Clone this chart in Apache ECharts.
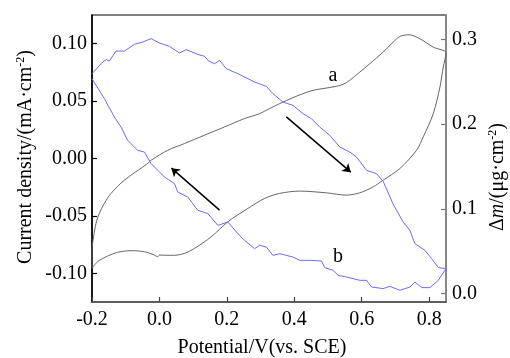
<!DOCTYPE html>
<html>
<head>
<meta charset="utf-8">
<script src="https://cdn.jsdelivr.net/npm/echarts@6/dist/echarts.min.js"></script>
<style>
html,body{margin:0;padding:0;background:#fff;}
#c{width:510px;height:358px;}
</style>
</head>
<body>
<div id="c"></div>
<script>
// Curve a: current density (left axis), closed CV loop
const potentialA = [-0.2,-0.1834,-0.1536,-0.1239,-0.0841,-0.0446,-0.0149,-0.0051,0.0,0.0199,0.0446,0.0743,0.104,0.1536,0.203,0.2624,0.312,0.3566,0.416,0.4954,0.5548,0.5944,0.634,0.6636,0.7132,0.7628,0.7825,0.8122,0.8321,0.842,0.85,
  0.8122,0.7726,0.74,0.7132,0.6933,0.6636,0.6241,0.5944,0.5646,0.5447,0.5251,0.4853,0.4556,0.4259,0.3962,0.3566,0.3269,0.2972,0.2526,0.1932,0.1337,0.0743,0.0247,-0.0247,-0.0347,-0.104,-0.1435,-0.1634,-0.1783,-0.1881,-0.1952,-0.2,-0.2];
const currentA = [-0.0957,-0.0899,-0.085,-0.0817,-0.0803,-0.0812,-0.0841,-0.0856,-0.0841,-0.0843,-0.0843,-0.0826,-0.0783,-0.0682,-0.0551,-0.0435,-0.0348,-0.0304,-0.0284,-0.0299,-0.0319,-0.0299,-0.0247,-0.0189,-0.0087,0.0072,0.0188,0.0391,0.0623,0.0797,0.0920,
  0.097,0.1043,0.1078,0.1063,0.1014,0.0927,0.0826,0.0753,0.0681,0.0646,0.0629,0.0609,0.0594,0.0565,0.053,0.0478,0.0435,0.0391,0.0348,0.0275,0.0203,0.013,0.0072,-0.0015,-0.0043,-0.0189,-0.0304,-0.0391,-0.0478,-0.0565,-0.0682,-0.0797,-0.0957];

// Curve b: mass change (right axis), closed loop
const potentialB = [-0.2,-0.1685,-0.158,-0.1486,-0.1287,-0.104,-0.0743,-0.0496,-0.0247,0.0,0.0297,0.0594,0.0793,0.1138,0.1337,0.1465,0.1634,0.1783,0.1982,0.2327,0.2624,0.2823,0.3171,0.3367,0.3664,0.3962,0.4259,0.4508,0.4755,0.5052,0.535,0.5646,0.5845,0.6143,0.644,0.6636,0.6934,0.7231,0.7429,0.7578,0.7875,0.8074,0.8271,0.85,
  0.85,0.8271,0.8024,0.7777,0.7578,0.7429,0.7132,0.6835,0.6636,0.6291,0.6143,0.5944,0.5548,0.5299,0.515,0.4903,0.4805,0.4458,0.416,0.3962,0.3566,0.3367,0.3171,0.2972,0.2823,0.2526,0.2327,0.203,0.1733,0.1435,0.1138,0.0841,0.0544,0.0446,0.0149,-0.0247,-0.0446,-0.0645,-0.0942,-0.1138,-0.1337,-0.1634,-0.2];
const massB = [0.2597,0.2734,0.2763,0.2746,0.2864,0.2864,0.2943,0.2971,0.3011,0.2959,0.292,0.2841,0.2881,0.2825,0.2802,0.2746,0.2715,0.2754,0.2656,0.2597,0.2538,0.2498,0.2447,0.2361,0.2262,0.2223,0.2125,0.2066,0.1967,0.1869,0.1731,0.1672,0.1613,0.1456,0.1417,0.1326,0.1054,0.0845,0.0747,0.059,0.0511,0.0413,0.0307,0.0295,
  0.0275,0.0157,0.0071,0.0071,0.0137,0.0078,0.0039,0.0086,0.0059,0.0078,0.0157,0.0157,0.0196,0.0216,0.0275,0.0307,0.0385,0.0393,0.0393,0.0432,0.0472,0.0452,0.055,0.057,0.0531,0.0629,0.0708,0.0845,0.0806,0.0945,0.0984,0.114,0.12,0.1299,0.1377,0.1535,0.1672,0.1692,0.181,0.1967,0.2085,0.2302,0.2538];

// Arrows (potential, current) tail -> head
const arrow1 = [[0.3765, 0.0362], [0.5676, -0.0119]];
const arrow2 = [[0.1783, -0.045], [0.0357, -0.0084]];
// Curve labels
const labelA = [0.515, 0.0724];
const labelB = [0.53, -0.0856];

const xTicks = [-0.2, 0.0, 0.2, 0.4, 0.6, 0.8];
const leftTicks = [-0.10, -0.05, 0.00, 0.05, 0.10];
const rightTicks = [0.0, 0.1, 0.2, 0.3];

const xTitle = 'Potential/V(vs. SCE)';

const FONT = "'Liberation Serif','Times New Roman',serif";
const zip = (a, b) => a.map((v, i) => [v, b[i]]);

const chart = echarts.init(document.getElementById('c'), null, {renderer: 'canvas'});
chart.setOption({
  animation: false,
  backgroundColor: '#fff',
  grid: {left: 92, right: 64, top: 15, bottom: 56, show: true, borderColor: '#000', borderWidth: 1.2, backgroundColor: 'transparent'},
  xAxis: {
    type: 'value', min: -0.2, max: 0.85,
    axisLine: {onZero: false, lineStyle: {color: '#555', width: 1.5}},
    axisTick: {inside: true, length: 5, customValues: xTicks, lineStyle: {color: '#444', width: 1.2}},
    axisLabel: {customValues: xTicks, formatter: v => v.toFixed(1), margin: 8, color: '#000', fontFamily: FONT, fontSize: 20},
    splitLine: {show: false}
  },
  yAxis: [{
    type: 'value', min: -0.125, max: 0.125, position: 'left',
    axisLine: {show: true, onZero: false, lineStyle: {color: '#000', width: 1.5}},
    axisTick: {show: true, inside: true, length: 5, customValues: leftTicks, lineStyle: {color: '#000', width: 1.2}},
    axisLabel: {customValues: leftTicks, formatter: v => v.toFixed(2), margin: 5, color: '#000', fontFamily: FONT, fontSize: 20},
    splitLine: {show: false}
  }, {
    type: 'value', min: -0.0099, max: 0.329, position: 'right',
    axisLine: {show: true, onZero: false, lineStyle: {color: '#888', width: 2}},
    axisTick: {show: true, inside: true, length: 5, customValues: rightTicks, lineStyle: {color: '#777', width: 1.2}},
    axisLabel: {customValues: rightTicks, formatter: v => v.toFixed(1), margin: 6, color: '#000', fontFamily: FONT, fontSize: 20},
    splitLine: {show: false}
  }],
  series: [{
    type: 'line', name: 'a', yAxisIndex: 0, data: zip(potentialA, currentA),
    showSymbol: false, smooth: 0.3, lineStyle: {color: '#666', width: 1},
    markLine: {
      silent: true, symbol: ['none', 'arrow'], symbolSize: 8, label: {show: false},
      lineStyle: {color: '#000', width: 1.5, type: 'solid'},
      data: [
        [{coord: arrow1[0]}, {coord: arrow1[1]}],
        [{coord: arrow2[0]}, {coord: arrow2[1]}]
      ]
    },
    markPoint: {
      silent: true, symbol: 'circle', symbolSize: 0,
      label: {show: true, position: 'inside', color: '#000', fontFamily: FONT, fontSize: 20, formatter: p => p.name},
      data: [{name: 'a', coord: labelA}, {name: 'b', coord: labelB}]
    }
  }, {
    type: 'line', name: 'b', yAxisIndex: 1, data: zip(potentialB, massB),
    showSymbol: false, lineStyle: {color: '#6b6bff', width: 1}
  }],
  graphic: [{
    type: 'text', x: 26, y: 157, rotation: Math.PI / 2,
    style: {
      text: '{n|Current density/(mA·cm}{s|-2}{n|)}', align: 'center', verticalAlign: 'middle',
      rich: {n: {fontFamily: FONT, fontSize: 20, fill: '#000', lineHeight: 22}, s: {fontFamily: FONT, fontSize: 12, fill: '#000', verticalAlign: 'top', lineHeight: 22, padding: [0, 0, 8, 0]}}
    }
  }, {
    type: 'text', x: 498, y: 177, rotation: Math.PI / 2,
    style: {
      text: '{n|Δ}{i|m}{n|/(μg·cm}{s|-2}{n|)}', align: 'center', verticalAlign: 'middle',
      rich: {n: {fontFamily: FONT, fontSize: 20, fill: '#000', lineHeight: 22}, i: {fontFamily: FONT, fontStyle: 'italic', fontSize: 20, fill: '#000', lineHeight: 22}, s: {fontFamily: FONT, fontSize: 12, fill: '#000', verticalAlign: 'top', lineHeight: 22, padding: [0, 0, 8, 0]}}
    }
  }, {
    type: 'text', x: 262, y: 348,
    style: {text: xTitle, align: 'center', verticalAlign: 'middle', font: "20px 'Liberation Serif', serif", fill: '#000'}
  }]
});
</script>
</body>
</html>
